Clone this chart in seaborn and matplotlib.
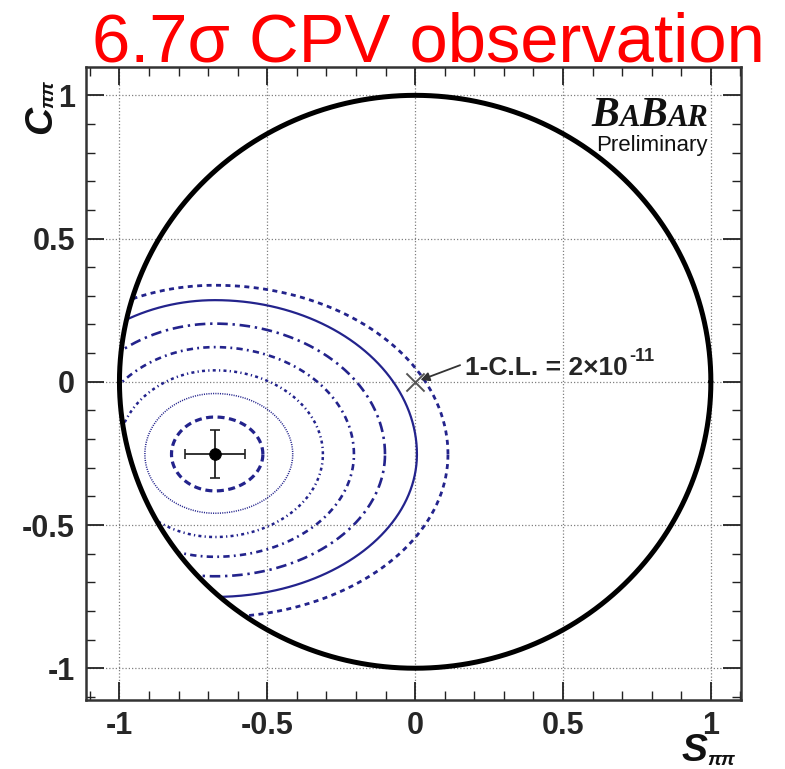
import numpy as np
import matplotlib
matplotlib.use("Agg")
import matplotlib.pyplot as plt
import matplotlib.ticker as mticker
import seaborn as sns
from matplotlib.patches import Circle
from matplotlib.offsetbox import TextArea, HPacker, VPacker, AnchoredOffsetbox

# Best-fit point and its uncertainties
s_fit = -0.677
c_fit = -0.253
s_err = 0.10
c_err = 0.084

# Contour half-extents around the best fit, innermost to outermost
right_w = [0.162, 0.263, 0.365, 0.470, 0.575, 0.683, 0.788]
left_w = [0.147, 0.237, 0.330, 0.425, 0.520, 0.615, 0.710]
top_h = [0.130, 0.212, 0.293, 0.374, 0.456, 0.538, 0.590]
bot_h = [0.128, 0.206, 0.289, 0.358, 0.426, 0.498, 0.569]

# No-CPV point
s_zero = [0.0]
c_zero = [0.0]

major_ticks = [-1, -0.5, 0, 0.5, 1]
major_labels = ["-1", "-0.5", "0", "0.5", "1"]
title_text = "6.7σ CPV observation"
cl_text = "1-C.L. = 2×10"
cl_exp = "-11"

sns.set_theme(style="ticks")
plt.rcParams["font.family"] = ["Liberation Sans", "DejaVu Sans"]

fig = plt.figure(figsize=(7.85, 7.69), dpi=100)
ax = fig.add_axes([0.1096, 0.0897, 0.8340, 0.8232])
ax.set_xlim(-1.113, 1.101)
ax.set_ylim(-1.111, 1.099)

navy = "#23238c"

# physical boundary S^2 + C^2 <= 1
theta = np.linspace(0, 2 * np.pi, 721)
sns.lineplot(x=np.cos(theta), y=np.sin(theta), sort=False, estimator=None,
             color="black", linewidth=3.6, ax=ax, zorder=5)
boundary = Circle((0, 0), 1.0, transform=ax.transData, facecolor="none", edgecolor="none")
ax.add_patch(boundary)

styles = [
    dict(lw=2.3, dashes=(2.2, 1.4)),
    dict(lw=1.1, dashes=(0.7, 0.8)),
    dict(lw=1.8, dashes=(1.2, 1.3, 0.5, 1.3)),
    dict(lw=1.9, dashes=(2.4, 1.6, 0.7, 1.6)),
    dict(lw=1.9, dashes=(4.0, 1.8, 0.9, 1.8)),
    dict(lw=1.6, dashes=None),
    dict(lw=2.0, dashes=(1.8, 1.6)),
]

t = np.linspace(0, 2 * np.pi, 721)
for aR, aL, bT, bB, st in zip(right_w, left_w, top_h, bot_h, styles):
    ct, sn = np.cos(t), np.sin(t)
    xs = s_fit + np.where(ct > 0, aR, aL) * ct
    ys = c_fit + np.where(sn > 0, bT, bB) * sn
    sns.lineplot(x=xs, y=ys, sort=False, estimator=None, color=navy,
                 linewidth=st["lw"], ax=ax, zorder=3)
    line = ax.get_lines()[-1]
    if st["dashes"] is not None:
        line.set_dashes(st["dashes"])
    line.set_clip_path(boundary)

# best fit with errors
ax.errorbar([s_fit], [c_fit], xerr=[s_err], yerr=[c_err], fmt="none",
            ecolor="#222222", elinewidth=1.3, capsize=3.5, capthick=1.2, zorder=6)
sns.scatterplot(x=[s_fit], y=[c_fit], s=70, color="black", edgecolor="black",
                ax=ax, zorder=7)

# no-CPV point
sns.scatterplot(x=s_zero, y=c_zero, marker="x", s=170, color="#555555",
                linewidth=1.4, ax=ax, zorder=7)

ax.annotate("", xy=(0.018, 0.006), xytext=(0.152, 0.058),
            arrowprops=dict(arrowstyle="-|>", color="#333333", lw=1.3,
                            mutation_scale=13, shrinkA=0, shrinkB=0), zorder=8)
cl = ax.text(0.170, 0.048, cl_text, fontsize=19, fontweight="bold",
             ha="left", va="center", zorder=8)
ax.annotate(cl_exp, xy=(1, 1), xycoords=cl, xytext=(1, 0),
            textcoords="offset points", fontsize=13, fontweight="bold",
            ha="left", va="center")

# axes styling
ax.xaxis.set_major_locator(mticker.FixedLocator(major_ticks))
ax.yaxis.set_major_locator(mticker.FixedLocator(major_ticks))
ax.xaxis.set_minor_locator(mticker.MultipleLocator(0.1))
ax.yaxis.set_minor_locator(mticker.MultipleLocator(0.1))
ax.set_xticklabels(major_labels)
ax.set_yticklabels(major_labels)
ax.tick_params(which="both", direction="in", top=True, right=True,
               color="#222222")
ax.tick_params(which="major", length=13, width=1.3, labelsize=22, pad=8)
ax.tick_params(which="minor", length=6.5, width=1.0)
for lab in ax.get_xticklabels() + ax.get_yticklabels():
    lab.set_fontweight("bold")
ax.grid(True, which="major", color="#808080", linewidth=0.9,
        linestyle=(0, (1.0, 1.6)))
for sp in ax.spines.values():
    sp.set_linewidth(1.8)
    sp.set_color("#333333")
ax.set_xlabel("")
ax.set_ylabel("")

# axis titles: main letter plus a small pi-pi subscript
lab_style = dict(fontsize=28, fontweight="bold", fontstyle="italic", color="#111111")
sub_style = dict(fontsize=14, fontweight="bold", fontstyle="italic", color="#111111")
fig.text(694 / 785, 1 - 761 / 769, "S", ha="center", va="baseline", **lab_style)
fig.text(721 / 785, 1 - 765 / 769, "ππ", ha="center", va="baseline", **sub_style)
fig.text(41 / 785, 1 - 134 / 769, "C", rotation=90, ha="center", va="bottom", **lab_style)
fig.text(49 / 785, 1 - 80 / 769, "ππ", rotation=90, ha="center", va="top", **sub_style)

fig.text(428.5 / 785, 1 - 61 / 769, title_text, color="#ff0000",
         fontsize=49.5, ha="center", va="baseline")

# collaboration logo
serif = dict(family="Liberation Serif", weight="bold", style="italic", color="#111111")
big = dict(size=30, **serif)
small = dict(size=22, **serif)
logo = HPacker(children=[TextArea("B", textprops=big), TextArea("A", textprops=small),
                         TextArea("B", textprops=big), TextArea("AR", textprops=small)],
               align="baseline", pad=0, sep=0)
prelim = TextArea("Preliminary", textprops=dict(size=16, color="#111111"))
box = VPacker(children=[logo, prelim], align="right", pad=0, sep=0)
anch = AnchoredOffsetbox(loc="upper right", child=box, frameon=False, pad=0,
                         borderpad=0, bbox_to_anchor=(708 / 785, 1 - 97 / 769),
                         bbox_transform=fig.transFigure)
ax.add_artist(anch)

fig.savefig("out.png", dpi=100)
